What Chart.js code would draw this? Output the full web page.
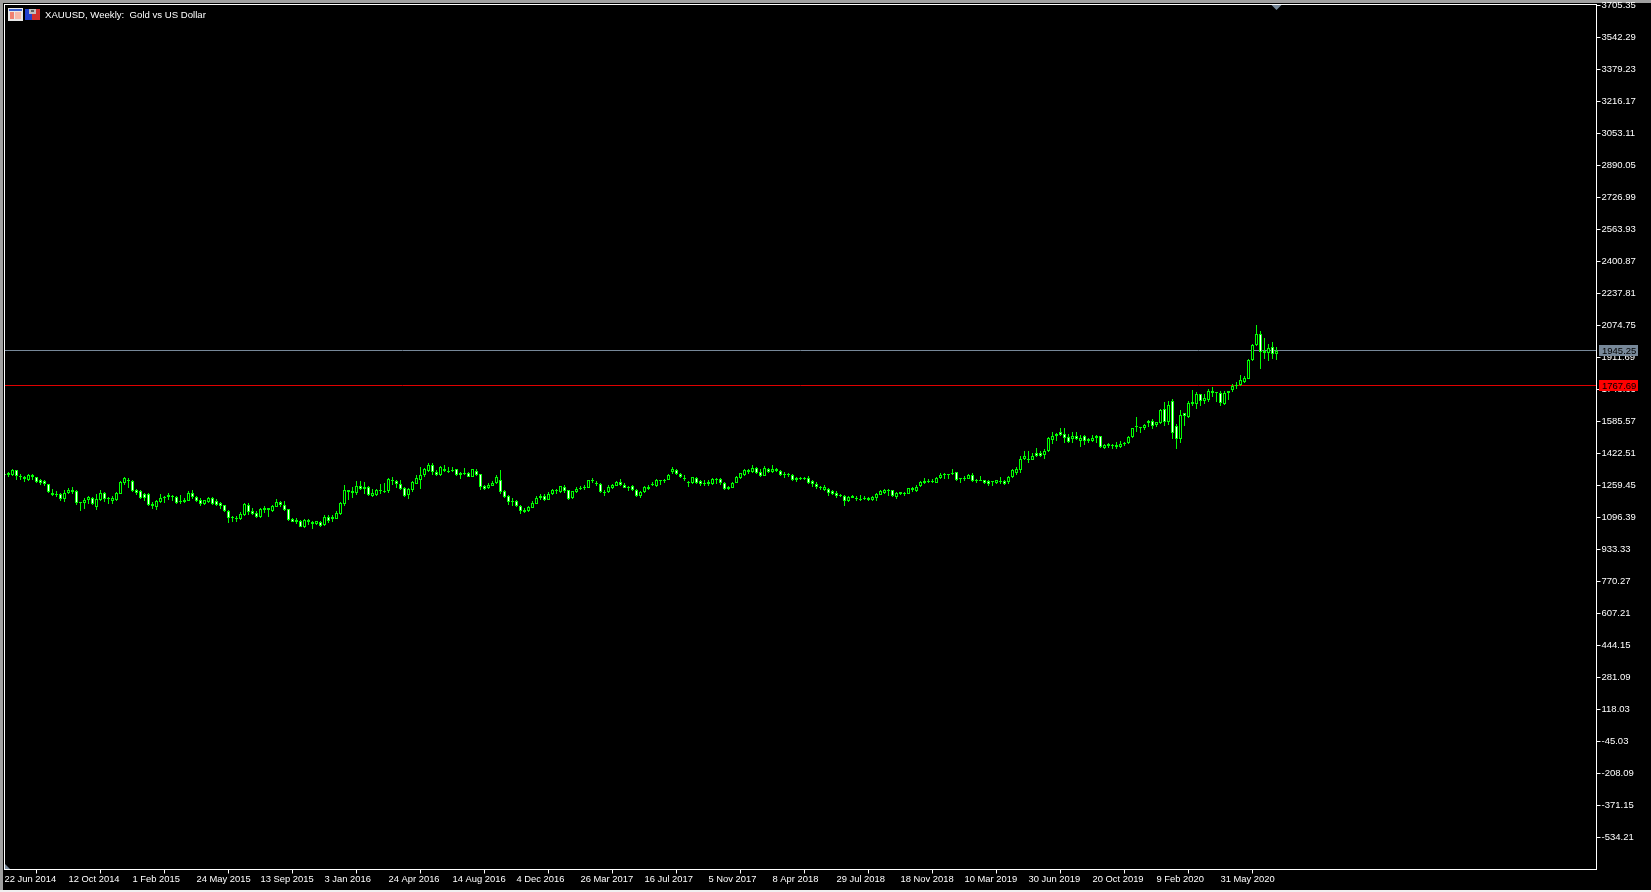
<!DOCTYPE html>
<html>
<head>
<meta charset="utf-8">
<title>XAUUSD, Weekly</title>
<script src="https://cdn.jsdelivr.net/npm/chart.js@4/dist/chart.umd.min.js"></script>
<style>
    html, body { margin: 0; padding: 0; background: #000; overflow: hidden; }
    #wrap { position: relative; width: 1651px; height: 892px; }
</style>
</head>
<body>
<div id="wrap"><canvas id="chart"></canvas></div>
<script>

const title = 'XAUUSD, Weekly:  Gold vs US Dollar';

// one label every 16 weekly bars
const tickLabels = [
    '22 Jun 2014', '12 Oct 2014', '1 Feb 2015', '24 May 2015', '13 Sep 2015', '3 Jan 2016', '24 Apr 2016',
    '14 Aug 2016', '4 Dec 2016', '26 Mar 2017', '16 Jul 2017', '5 Nov 2017', '8 Apr 2018', '29 Jul 2018',
    '18 Nov 2018', '10 Mar 2019', '30 Jun 2019', '20 Oct 2019', '9 Feb 2020', '31 May 2020'
];
const barsPerTick = 16;

const priceTicks = [
    3705.35, 3542.29, 3379.23, 3216.17, 3053.11, 2890.05, 2726.99, 2563.93, 2400.87, 2237.81, 2074.75, 1911.69, 1748.63, 1585.57,
    1422.51, 1259.45, 1096.39, 933.33, 770.27, 607.21, 444.15, 281.09, 118.03, -45.03, -208.09, -371.15, -534.21
];

const bidLevel = 1945.25;
const stopLevel = 1767.69;

const opens = [
    1312, 1312, 1314, 1336, 1310, 1293, 1290, 1302, 1303, 1285, 1283, 1268, 1223, 1217, 1218, 1189,
    1222, 1239, 1229, 1177, 1172, 1186, 1196, 1152, 1184, 1222, 1191, 1183, 1184, 1218, 1273, 1290,
    1280, 1234, 1229, 1215, 1215, 1167, 1149, 1176, 1194, 1200, 1206, 1203, 1179, 1174, 1183, 1223,
    1201, 1186, 1167, 1174, 1198, 1183, 1171, 1160, 1130, 1101, 1087, 1091, 1108, 1162, 1132, 1120,
    1099, 1133, 1143, 1132, 1152, 1177, 1162, 1140, 1089, 1084, 1077, 1050, 1084, 1072, 1062, 1072,
    1057, 1101, 1087, 1091, 1113, 1166, 1234, 1229, 1220, 1257, 1244, 1254, 1208, 1211, 1230, 1230,
    1229, 1288, 1283, 1268, 1249, 1210, 1237, 1269, 1285, 1314, 1332, 1366, 1330, 1314, 1346, 1334,
    1332, 1341, 1315, 1325, 1325, 1305, 1334, 1319, 1259, 1245, 1259, 1273, 1288, 1229, 1208, 1183,
    1183, 1157, 1133, 1128, 1145, 1167, 1194, 1208, 1186, 1215, 1229, 1227, 1254, 1234, 1196, 1225,
    1245, 1245, 1249, 1283, 1271, 1268, 1227, 1225, 1247, 1259, 1278, 1264, 1252, 1257, 1239, 1208,
    1225, 1244, 1264, 1256, 1286, 1281, 1288, 1329, 1336, 1319, 1298, 1278, 1271, 1300, 1280, 1273,
    1266, 1268, 1295, 1291, 1273, 1244, 1249, 1273, 1296, 1315, 1330, 1329, 1349, 1329, 1310, 1346,
    1327, 1346, 1332, 1315, 1312, 1314, 1285, 1291, 1300, 1300, 1280, 1269, 1251, 1234, 1242, 1229,
    1223, 1213, 1208, 1179, 1208, 1198, 1188, 1191, 1198, 1188, 1198, 1213, 1223, 1235, 1234, 1203,
    1225, 1218, 1218, 1247, 1232, 1256, 1274, 1279, 1283, 1274, 1298, 1313, 1315, 1317, 1329, 1296,
    1291, 1295, 1313, 1288, 1284, 1288, 1284, 1284, 1274, 1278, 1284, 1279, 1301, 1325, 1337, 1393,
    1397, 1390, 1427, 1427, 1414, 1434, 1492, 1511, 1534, 1522, 1507, 1495, 1512, 1488, 1512, 1485,
    1488, 1499, 1512, 1451, 1460, 1461, 1454, 1454, 1470, 1475, 1506, 1565, 1553, 1550, 1579, 1589,
    1567, 1576, 1650, 1585, 1692, 1563, 1498, 1628, 1611, 1677, 1673, 1726, 1692, 1697, 1743, 1735,
    1731, 1677, 1729, 1748, 1769, 1770, 1789, 1804, 1898, 1974, 2032, 1933, 1933, 1967, 1927
];

const highs = [
    1320, 1329, 1344, 1339, 1319, 1310, 1319, 1320, 1305, 1293, 1288, 1269, 1244, 1230, 1223, 1234,
    1249, 1254, 1234, 1177, 1196, 1208, 1203, 1217, 1237, 1225, 1203, 1206, 1225, 1281, 1305, 1298,
    1285, 1244, 1234, 1222, 1223, 1174, 1188, 1218, 1208, 1223, 1210, 1208, 1211, 1196, 1229, 1234,
    1206, 1196, 1188, 1203, 1203, 1191, 1176, 1162, 1133, 1106, 1103, 1126, 1169, 1169, 1143, 1128,
    1143, 1155, 1147, 1159, 1193, 1181, 1183, 1142, 1094, 1094, 1084, 1091, 1087, 1079, 1081, 1077,
    1111, 1108, 1111, 1132, 1174, 1264, 1239, 1252, 1280, 1283, 1276, 1259, 1244, 1244, 1266, 1271,
    1296, 1305, 1285, 1290, 1254, 1245, 1280, 1315, 1356, 1348, 1375, 1375, 1337, 1359, 1366, 1356,
    1356, 1346, 1330, 1349, 1330, 1346, 1341, 1320, 1264, 1271, 1281, 1312, 1336, 1234, 1213, 1196,
    1188, 1162, 1143, 1157, 1179, 1208, 1217, 1218, 1225, 1240, 1244, 1259, 1264, 1239, 1232, 1254,
    1257, 1264, 1290, 1296, 1280, 1271, 1234, 1264, 1269, 1283, 1295, 1271, 1256, 1261, 1244, 1230,
    1256, 1261, 1278, 1291, 1288, 1295, 1317, 1356, 1341, 1322, 1314, 1280, 1305, 1305, 1286, 1285,
    1290, 1296, 1296, 1300, 1276, 1259, 1276, 1307, 1325, 1341, 1344, 1366, 1353, 1346, 1361, 1349,
    1366, 1351, 1336, 1327, 1325, 1319, 1305, 1305, 1305, 1310, 1285, 1276, 1259, 1262, 1245, 1234,
    1229, 1218, 1213, 1208, 1213, 1208, 1213, 1208, 1203, 1208, 1223, 1234, 1244, 1240, 1235, 1227,
    1228, 1228, 1249, 1251, 1264, 1281, 1298, 1295, 1293, 1305, 1325, 1322, 1320, 1346, 1330, 1300,
    1308, 1318, 1325, 1295, 1310, 1290, 1288, 1284, 1290, 1305, 1288, 1307, 1344, 1356, 1410, 1437,
    1436, 1426, 1453, 1434, 1446, 1509, 1533, 1529, 1553, 1553, 1522, 1534, 1533, 1519, 1519, 1499,
    1519, 1516, 1514, 1472, 1478, 1470, 1483, 1488, 1483, 1512, 1555, 1611, 1560, 1575, 1592, 1596,
    1585, 1648, 1687, 1692, 1702, 1575, 1646, 1631, 1692, 1748, 1738, 1728, 1726, 1752, 1763, 1738,
    1743, 1743, 1743, 1777, 1789, 1820, 1815, 1906, 1983, 2075, 2049, 2013, 1978, 1993, 1967
];

const lows = [
    1310, 1305, 1308, 1285, 1286, 1278, 1281, 1288, 1271, 1264, 1256, 1223, 1208, 1203, 1183, 1177,
    1217, 1217, 1159, 1128, 1142, 1166, 1162, 1137, 1179, 1176, 1166, 1164, 1179, 1215, 1262, 1247,
    1225, 1213, 1193, 1183, 1157, 1142, 1137, 1172, 1172, 1186, 1178, 1166, 1164, 1172, 1179, 1193,
    1176, 1157, 1162, 1169, 1162, 1155, 1142, 1126, 1070, 1074, 1076, 1084, 1104, 1111, 1111, 1092,
    1094, 1118, 1101, 1125, 1149, 1152, 1132, 1081, 1072, 1064, 1047, 1041, 1057, 1040, 1060, 1050,
    1053, 1067, 1076, 1089, 1111, 1157, 1188, 1198, 1210, 1234, 1217, 1208, 1203, 1206, 1217, 1223,
    1223, 1264, 1249, 1237, 1203, 1193, 1228, 1268, 1244, 1302, 1329, 1315, 1307, 1307, 1329, 1324,
    1330, 1308, 1295, 1315, 1302, 1302, 1308, 1235, 1239, 1242, 1256, 1268, 1215, 1198, 1162, 1157,
    1150, 1116, 1120, 1125, 1143, 1166, 1188, 1179, 1184, 1211, 1217, 1223, 1222, 1186, 1193, 1222,
    1235, 1239, 1247, 1271, 1256, 1220, 1208, 1222, 1244, 1256, 1257, 1245, 1230, 1232, 1201, 1196,
    1223, 1237, 1257, 1251, 1262, 1274, 1285, 1320, 1314, 1296, 1283, 1254, 1268, 1269, 1259, 1257,
    1259, 1264, 1268, 1264, 1239, 1234, 1247, 1271, 1293, 1310, 1320, 1325, 1320, 1302, 1308, 1324,
    1324, 1327, 1310, 1296, 1302, 1281, 1276, 1285, 1285, 1268, 1254, 1242, 1234, 1230, 1205, 1213,
    1198, 1200, 1157, 1177, 1194, 1183, 1183, 1188, 1178, 1183, 1178, 1211, 1218, 1208, 1203, 1193,
    1213, 1208, 1216, 1228, 1228, 1254, 1269, 1274, 1274, 1271, 1293, 1295, 1295, 1315, 1284, 1274,
    1284, 1291, 1279, 1274, 1284, 1268, 1259, 1259, 1269, 1269, 1264, 1269, 1300, 1315, 1325, 1390,
    1376, 1387, 1407, 1407, 1395, 1432, 1473, 1487, 1514, 1478, 1478, 1478, 1489, 1455, 1468, 1475,
    1483, 1475, 1453, 1443, 1451, 1443, 1448, 1451, 1463, 1472, 1504, 1533, 1529, 1540, 1560, 1545,
    1558, 1573, 1561, 1570, 1498, 1447, 1478, 1565, 1605, 1665, 1651, 1667, 1677, 1687, 1712, 1687,
    1667, 1672, 1696, 1738, 1753, 1769, 1784, 1803, 1896, 1971, 1855, 1906, 1896, 1906, 1901
];

const closes = [
    1317, 1324, 1336, 1308, 1302, 1305, 1312, 1314, 1276, 1273, 1266, 1225, 1211, 1210, 1189, 1222,
    1239, 1225, 1171, 1171, 1188, 1200, 1166, 1191, 1222, 1189, 1198, 1194, 1222, 1278, 1296, 1285,
    1230, 1223, 1198, 1194, 1162, 1154, 1183, 1198, 1203, 1210, 1201, 1171, 1174, 1188, 1223, 1200,
    1183, 1167, 1184, 1198, 1167, 1162, 1157, 1128, 1096, 1092, 1096, 1116, 1164, 1126, 1116, 1101,
    1138, 1145, 1135, 1157, 1177, 1159, 1137, 1082, 1076, 1072, 1050, 1084, 1072, 1064, 1077, 1055,
    1099, 1081, 1098, 1118, 1172, 1237, 1227, 1223, 1257, 1242, 1254, 1211, 1223, 1239, 1237, 1227,
    1295, 1283, 1269, 1242, 1208, 1244, 1276, 1300, 1315, 1342, 1366, 1330, 1314, 1353, 1332, 1330,
    1337, 1315, 1325, 1320, 1305, 1341, 1312, 1252, 1244, 1264, 1274, 1305, 1225, 1203, 1177, 1174,
    1154, 1132, 1126, 1150, 1172, 1198, 1208, 1188, 1218, 1234, 1234, 1256, 1229, 1191, 1229, 1244,
    1249, 1254, 1285, 1288, 1266, 1225, 1222, 1252, 1264, 1278, 1261, 1249, 1247, 1235, 1205, 1227,
    1252, 1254, 1269, 1288, 1281, 1290, 1314, 1346, 1317, 1305, 1291, 1273, 1303, 1274, 1269, 1268,
    1276, 1293, 1288, 1274, 1244, 1251, 1273, 1303, 1322, 1336, 1337, 1349, 1325, 1310, 1351, 1329,
    1346, 1332, 1315, 1320, 1319, 1285, 1300, 1300, 1291, 1274, 1266, 1251, 1254, 1251, 1222, 1218,
    1208, 1208, 1179, 1203, 1198, 1189, 1191, 1198, 1188, 1203, 1218, 1229, 1234, 1230, 1205, 1223,
    1218, 1223, 1247, 1235, 1254, 1278, 1284, 1284, 1278, 1300, 1313, 1317, 1318, 1325, 1286, 1291,
    1298, 1315, 1284, 1283, 1288, 1271, 1266, 1279, 1286, 1284, 1269, 1303, 1339, 1342, 1395, 1410,
    1392, 1410, 1412, 1410, 1436, 1499, 1512, 1524, 1517, 1504, 1483, 1512, 1494, 1502, 1485, 1494,
    1502, 1512, 1455, 1468, 1470, 1466, 1465, 1472, 1478, 1509, 1550, 1557, 1560, 1570, 1590, 1565,
    1582, 1643, 1582, 1672, 1525, 1495, 1619, 1614, 1680, 1687, 1728, 1692, 1704, 1743, 1729, 1729,
    1678, 1733, 1743, 1765, 1774, 1799, 1809, 1901, 1973, 2032, 1940, 1945, 1962, 1927, 1945
];

const CANDLE = '#00ff00';
const BG = '#000';
const FG = '#fff';
const LEVEL = '#778899';
const FONT_FAMILY = '"Liberation Sans", sans-serif';

// snap the bars to whole pixels, the original is not antialiased
const snapBars = {
    id: 'snapBars',
    afterDatasetsUpdate ( chart ) {
        chart.getSortedVisibleDatasetMetas().forEach( meta => {
            meta.data.forEach( el => {
                el.y = Math.round( el.y );
                el.base = Math.round( el.base );
                if ( el.y === el.base ) el.base = el.y + 1;
            } );
        } );
    }
};

function levelY ( chart, value ) {
    return Math.floor( chart.scales.y.getPixelForValue( value ) ) + 0.5;
}

function drawIcons ( ctx ) {

    ctx.fillStyle = '#e8e8e8'; ctx.fillRect( 8, 8, 15, 13 );
    ctx.fillStyle = '#3a5fcd'; ctx.fillRect( 9, 9, 13, 2 );
    ctx.fillStyle = '#f08070'; ctx.fillRect( 10, 12, 4, 7 );
    ctx.fillStyle = '#f8b8a8'; ctx.fillRect( 15, 12, 6, 7 );

    ctx.fillStyle = '#2040d0'; ctx.fillRect( 25, 9, 7, 11 );
    ctx.fillStyle = '#d03030'; ctx.fillRect( 32, 9, 8, 11 );
    ctx.fillStyle = '#c0c0c0'; ctx.fillRect( 29, 9, 7, 5 );
    ctx.fillStyle = '#606060'; ctx.fillRect( 31, 10, 3, 2 );

}

function drawTag ( chart, value, color ) {

    const { ctx } = chart;
    const y = levelY( chart, value );

    ctx.fillStyle = color;
    ctx.fillRect( 1599, y - 5.5, 39, 11 );
    ctx.fillStyle = '#000';
    ctx.font = '9.5px ' + FONT_FAMILY;
    ctx.textAlign = 'left';
    ctx.textBaseline = 'middle';
    ctx.fillText( value.toFixed( 2 ), 1602, y + 0.5 );

}

const terminal = {
    id: 'terminal',
    beforeDraw ( chart ) {

        const { ctx } = chart;

        ctx.save();
        ctx.fillStyle = '#a0a0a0';
        ctx.fillRect( 0, 0, 1651, 892 );
        ctx.fillStyle = BG;
        ctx.fillRect( 3, 3, 1648, 887 );
        ctx.fillStyle = '#f0f0f0';
        ctx.fillRect( 0, 890, 1651, 2 );
        ctx.restore();

    },
    beforeDatasetsDraw ( chart ) {

        const { ctx, chartArea } = chart;

        ctx.save();
        ctx.lineWidth = 1;
        [ [ bidLevel, LEVEL ], [ stopLevel, '#e00000' ] ].forEach( ( [ value, color ] ) => {
            const y = levelY( chart, value );
            ctx.strokeStyle = color;
            ctx.beginPath();
            ctx.moveTo( chartArea.left, y );
            ctx.lineTo( chartArea.right, y );
            ctx.stroke();
        } );
        ctx.restore();

    },
    afterDraw ( chart ) {

        const { ctx, chartArea } = chart;
        const shiftX = chart.scales.x.getPixelForValue( opens.length - 1 );

        ctx.save();

        ctx.strokeStyle = FG;
        ctx.lineWidth = 1;
        ctx.strokeRect( chartArea.left, chartArea.top, chartArea.right - chartArea.left, chartArea.bottom - chartArea.top );

        ctx.fillStyle = LEVEL;
        ctx.beginPath();
        ctx.moveTo( shiftX - 5, 5 );
        ctx.lineTo( shiftX + 5, 5 );
        ctx.lineTo( shiftX, 10 );
        ctx.fill();
        ctx.beginPath();
        ctx.moveTo( 5, 864 );
        ctx.lineTo( 10, 869 );
        ctx.lineTo( 5, 869 );
        ctx.fill();

        drawIcons( ctx );

        ctx.fillStyle = FG;
        ctx.font = '9.6px ' + FONT_FAMILY;
        ctx.textAlign = 'left';
        ctx.textBaseline = 'alphabetic';
        ctx.fillText( title, 45, 18 );

        drawTag( chart, bidLevel, LEVEL );
        drawTag( chart, stopLevel, '#ff0000' );

        ctx.restore();

    }
};

// no extra room for the outer tick labels, the plot area runs to the frame
function fixMargins ( scale ) {
    scale.paddingLeft = 0;
    scale.paddingRight = 0;
    scale.paddingTop = 0;
    scale.paddingBottom = 0;
}

const barOptions = {
    grouped: false,
    barPercentage: 1,
    categoryPercentage: 1,
    borderSkipped: false,
    inflateAmount: 0
};

document.addEventListener( 'DOMContentLoaded', function () {

    document.getElementById( 'chart' ).width = 1651;
    document.getElementById( 'chart' ).height = 892;

    new Chart( document.getElementById( 'chart' ), {
        type: 'bar',
        plugins: [ snapBars, terminal ],
        data: {
            datasets: [ {
                ...barOptions,
                label: 'Body',
                order: 1,
                data: opens.map( ( o, i ) => ( { x: i, y: [ o, closes[ i ] ] } ) ),
                maxBarThickness: 3,
                borderWidth: 1,
                borderColor: CANDLE,
                backgroundColor: opens.map( ( o, i ) => closes[ i ] >= o ? BG : FG )
            }, {
                ...barOptions,
                label: 'Wick',
                order: 2,
                data: highs.map( ( h, i ) => ( { x: i, y: [ lows[ i ], h ] } ) ),
                maxBarThickness: 1,
                borderWidth: 0,
                backgroundColor: CANDLE
            } ]
        },
        options: {
            responsive: false,
            animation: false,
            layout: { padding: { left: 4.5, top: 4.5, right: 0, bottom: 0 } },
            plugins: { legend: { display: false }, tooltip: { enabled: false } },
            scales: {
                x: {
                    type: 'linear',
                    min: 0,
                    max: 398,
                    offset: false,
                    afterBuildTicks: scale => {
                        scale.ticks = tickLabels.map( ( _, k ) => ( { value: k * barsPerTick } ) );
                    },
                    afterFit: scale => {
                        fixMargins( scale );
                        scale.height = 22.5;
                    },
                    grid: { drawOnChartArea: false, color: FG, tickLength: 4 },
                    border: { display: false },
                    ticks: {
                        color: FG,
                        font: { family: FONT_FAMILY, size: 9.4 },
                        align: 'start',
                        autoSkip: false,
                        maxRotation: 0,
                        padding: 0,
                        callback: v => tickLabels[ v / barsPerTick ]
                    }
                },
                y: {
                    position: 'right',
                    min: -697.25,
                    max: 3710.45,
                    afterBuildTicks: scale => {
                        scale.ticks = priceTicks.map( v => ( { value: v } ) );
                    },
                    afterFit: scale => {
                        fixMargins( scale );
                        scale.width = 54.5;
                    },
                    grid: { drawOnChartArea: false, color: FG, tickLength: 4 },
                    border: { display: false },
                    ticks: {
                        color: FG,
                        font: { family: FONT_FAMILY, size: 9.5 },
                        autoSkip: false,
                        padding: 1,
                        callback: v => v.toFixed( 2 )
                    }
                }
            }
        }
    } );

} );

</script>
</body>
</html>
